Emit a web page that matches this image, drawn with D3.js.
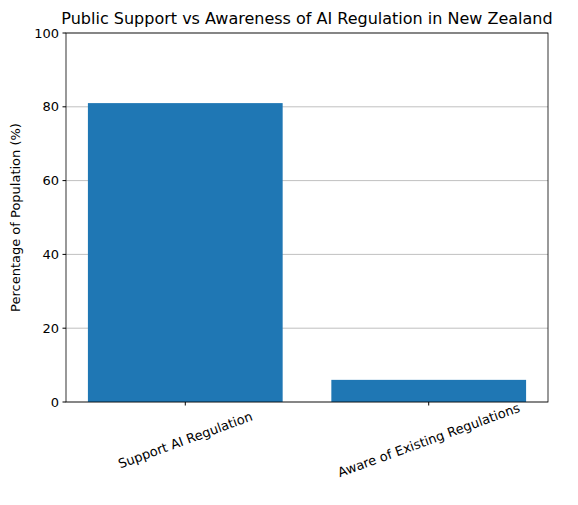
<!DOCTYPE html><html><head><script src="https://cdn.jsdelivr.net/npm/d3@7"></script>
<style>body{margin:0;background:#fff}</style></head><body><svg id="c" width="578" height="505"></svg>
<script>
const categories=["Support AI Regulation","Aware of Existing Regulations"];
const values=[81,6];
const yTicks=[0,20,40,60,80,100];
const svg=d3.select("#c"),L=66,R=548,T=33,B=402;
const x=d3.scaleLinear().domain([-0.49,1.49]).range([L,R]);
const y=d3.scaleLinear().domain([0,100]).range([B,T]);
const f="DejaVu Sans, sans-serif";
svg.selectAll(".g").data(yTicks).join("line").attr("x1",L).attr("x2",R).attr("y1",d=>y(d)).attr("y2",d=>y(d)).attr("stroke","#b0b0b0").attr("stroke-width",0.8);
svg.selectAll(".b").data(values).join("rect").attr("x",(d,i)=>x(i-0.4)).attr("width",x(0.4)-x(-0.4)).attr("y",d=>y(d)).attr("height",d=>B-y(d)).attr("fill","#1f77b4");
svg.append("rect").attr("x",L).attr("y",T).attr("width",R-L).attr("height",B-T).attr("fill","none").attr("stroke","#000").attr("stroke-width",0.8);
yTicks.forEach(t=>{svg.append("line").attr("x1",L-3.5).attr("x2",L).attr("y1",y(t)).attr("y2",y(t)).attr("stroke","#000");
svg.append("text").attr("x",L-7).attr("y",y(t)).attr("dy","0.35em").attr("text-anchor","end").attr("font-family",f).attr("font-size",13).text(t);});
categories.forEach((c,i)=>{const cx=x(i);svg.append("line").attr("x1",cx).attr("x2",cx).attr("y1",B).attr("y2",B+3.5).attr("stroke","#000");
svg.append("text").attr("transform",`translate(${cx},${B+38}) rotate(-20)`).attr("text-anchor","middle").attr("dy","0.35em").attr("font-family",f).attr("font-size",13).text(c);});
svg.append("text").attr("transform",`translate(20,${(T+B)/2}) rotate(-90)`).attr("text-anchor","middle").attr("font-family",f).attr("font-size",13).text("Percentage of Population (%)");
svg.append("text").attr("x",(L+R)/2).attr("y",T-9).attr("text-anchor","middle").attr("font-family",f).attr("font-size",16).text("Public Support vs Awareness of AI Regulation in New Zealand");
</script></body></html>
